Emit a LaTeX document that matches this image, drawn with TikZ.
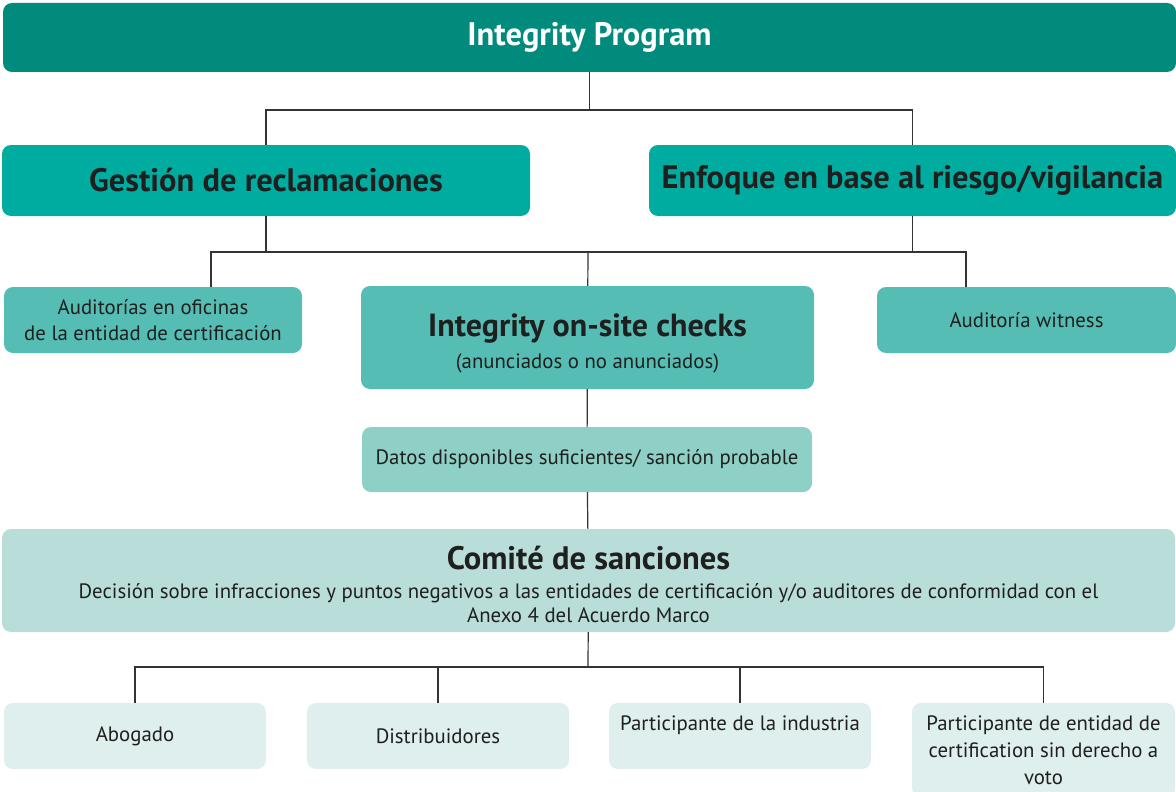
\documentclass[tikz,border=0pt]{standalone}
\usepackage{fontspec}
\setmainfont{PT Sans}

\definecolor{progteal}{HTML}{008B7C}
\definecolor{lineteal}{HTML}{00ACA0}
\definecolor{checkteal}{HTML}{56BDB4}
\definecolor{datosteal}{HTML}{8ED0C6}
\definecolor{comiteteal}{HTML}{B9DEDA}
\definecolor{memberteal}{HTML}{DEEFED}

\tikzset{
  box/.style={rectangle, rounded corners=9pt, inner sep=0pt, align=center, text=black!88},
  headfont/.style={font=\bfseries\fontsize{32.5}{38}\selectfont},
  bodyfont/.style={font=\fontsize{20.8}{26}\selectfont},
  link/.style={draw=black!80, line width=1.2pt}
}

\begin{document}
\begin{tikzpicture}[x=1pt, y=-1pt]
  \useasboundingbox (0,0) rectangle (1176,792);

  \node[box, headfont, fill=progteal, text=white, minimum width=1173pt, minimum height=69pt]
    (prog) at (589.5,37.5) {Integrity Program};

  \node[box, headfont, fill=lineteal, minimum width=528pt, minimum height=71pt]
    (gest) at (266,180.5) {Gestión de reclamaciones};
  \node[box, headfont, fill=lineteal, minimum width=527pt, minimum height=71pt]
    (enf) at (912.5,180.5) {Enfoque en base al riesgo/vigilancia};

  \node[box, bodyfont, fill=checkteal, minimum width=298pt, minimum height=66pt]
    (aud) at (153,320) {Auditorías en oficinas\\de la entidad de certificación};
  \node[box, bodyfont, fill=checkteal, minimum width=453pt, minimum height=103pt]
    (check) at (587.5,337.5)
    {{\bfseries\fontsize{32}{38}\selectfont\rule{0pt}{34pt}Integrity on-site checks}\\[6pt](anunciados o no anunciados)};
  \node[box, bodyfont, fill=checkteal, minimum width=299pt, minimum height=66pt]
    (wit) at (1026.5,320) {Auditoría witness};

  \node[box, bodyfont, fill=datosteal, minimum width=450pt, minimum height=65pt]
    (datos) at (587,459.5) {Datos disponibles suficientes/ sanción probable};

  \node[box, font=\fontsize{20.8}{24}\selectfont, fill=comiteteal, minimum width=1173pt, minimum height=103pt]
    (comite) at (588.5,580.5)
    {{\bfseries\fontsize{32.5}{38}\selectfont\rule{0pt}{32pt}Comité de sanciones}\\[5pt]
     Decisión sobre infracciones y puntos negativos a las entidades de certificación y/o auditores de conformidad con el\\
     Anexo 4 del Acuerdo Marco};

  \foreach \name/\x/\txt in {abo/135/Abogado, dis/438/Distribuidores,
      ind/740/{Participante de la industria\\\mbox{}}}
    \node[box, bodyfont, fill=memberteal, minimum width=262pt, minimum height=66pt]
      (\name) at (\x,736) {\txt};
  \node[box, font=\fontsize{20.8}{27}\selectfont, fill=memberteal, minimum width=263pt, minimum height=94pt]
    (voto) at (1043.5,750) {Participante de entidad de\\certification sin derecho a\\voto};

  \coordinate (j1) at (589.5,110);
  \coordinate (j2) at (588,252);
  \coordinate (ja) at (211,252);
  \coordinate (jw) at (966,252);
  \coordinate (j3) at (588,667);

  \draw[link] (prog) -- (j1);
  \draw[link] (gest.north) |- (j1) -| (enf.north);
  \draw[link] (gest.south) -- (gest.south |- j2);
  \draw[link] (enf.south) -- (enf.south |- j2);
  \draw[link] (ja |- aud.north) -- (ja) -- (jw) -- (jw |- wit.north);
  \draw[link] (check) -- (j2);
  \draw[link] (check) -- (datos) -- (comite);
  \draw[link] (comite) -- (j3);
  \draw[link] (abo.north) |- (j3) -| (voto.north);
  \draw[link] (dis.north) -- (dis.north |- j3);
  \draw[link] (ind.north) -- (ind.north |- j3);
\end{tikzpicture}
\end{document}
